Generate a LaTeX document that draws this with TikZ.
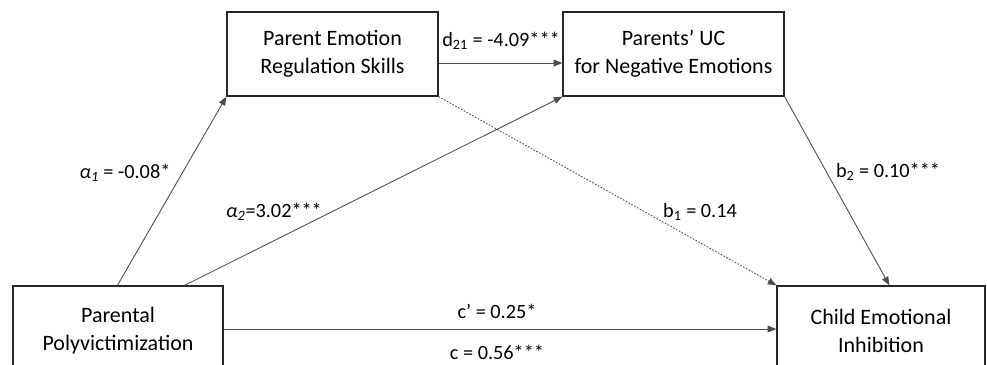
\documentclass[tikz,border=0pt]{standalone}
\usepackage{fontspec}
\setmainfont{Carlito}
\usetikzlibrary{arrows.meta}
\begin{document}
\begin{tikzpicture}[x=0.75pt,y=-0.75pt,
  box/.style={draw=black!85,line width=0.9pt,inner sep=0pt,align=center,
    font=\fontsize{16.5}{21}\selectfont},
  arr/.style={draw=black!70,line width=0.65pt,-{Triangle[length=6.5pt,width=5pt]}},
  lab/.style={font=\fontsize{15.2}{17}\selectfont,inner sep=0pt}]
\useasboundingbox (0,0) rectangle (987,364);
\fill[white] (0,0) rectangle (987,364);
% boxes
\node[box,minimum width=158.25pt,minimum height=63pt] (A) at (332.5,54)
  {Parent Emotion\\Regulation Skills};
\node[box,minimum width=165.75pt,minimum height=63pt] (B) at (673.5,54)
  {Parents’ UC\\for Negative Emotions};
\node[box,minimum width=157.5pt,minimum height=67.5pt] (P) at (118,331)
  {Parental\\Polyvictimization};
\node[box,minimum width=156pt,minimum height=67.5pt] (C) at (881,331)
  {Child Emotional\\Inhibition};
% connectors
\draw[arr] ([yshift=-6.75pt]A.east) -- ([yshift=-6.75pt]B.west);
\draw[arr] ([xshift=78.75pt]P.north west) -- (A.south west);
\draw[arr] ([xshift=129pt]P.north west) -- (B.south west);
\draw[arr,dash pattern=on 1.2pt off 1.2pt] (A.south east) -- (C.north west);
\draw[arr] (B.south east) -- ([xshift=84.75pt]C.north west);
\draw[arr] ([yshift=1.5pt]P.east) -- ([yshift=1.5pt]P.east -| C.west);
% labels
\node[lab] (ld) at (501,41) {d\textsubscript{21} = -4.09***};
\node[lab] (la1) at (125,173) {\textit{α}\textsubscript{\textit{1}} = -0.08*};
\node[lab] (la2) at (274,212) {\textit{α}\textsubscript{\textit{2}}=3.02***};
\node[lab] (lb1) at (700,212) {b\textsubscript{1} = 0.14};
\node[lab] (lb2) at (888,172) {b\textsubscript{2} = 0.10***};
\node[lab] (lcp) at (497,311) {c’ = 0.25*};
\node[lab] (lc) at (497,352) {c = 0.56***};
\end{tikzpicture}
\end{document}
